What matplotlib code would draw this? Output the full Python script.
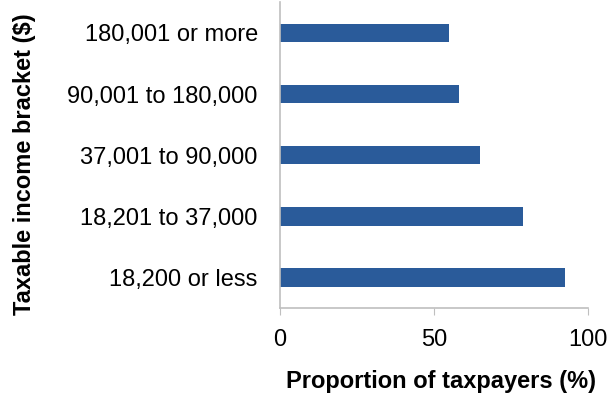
import matplotlib.pyplot as plt

plt.rcParams['font.family'] = ['Liberation Sans', 'DejaVu Sans']

brackets = ['18,200 or less', '18,201 to 37,000', '37,001 to 90,000',
            '90,001 to 180,000', '180,001 or more']
proportion = [92.4, 78.8, 64.9, 58.1, 54.8]

fig = plt.figure(figsize=(6.1, 3.94), dpi=100)
ax = fig.add_axes([0.459, 0.218, 0.505, 0.776])

ax.barh(range(len(brackets)), proportion, height=0.3, color='#2A5B9A')
ax.set_xlim(0, 100)
ax.set_ylim(-0.5, 4.5)
ax.set_yticks(range(len(brackets)))
ax.set_yticklabels(brackets)
ax.set_xticks([0, 50, 100])

for s in ['top', 'right']:
    ax.spines[s].set_visible(False)
for s in ['left', 'bottom']:
    ax.spines[s].set_color('#BFBFBF')
    ax.spines[s].set_linewidth(1.2)
ax.tick_params(axis='y', length=0, labelsize=17, pad=16)
ax.tick_params(axis='x', length=5, color='#BFBFBF', labelsize=17, pad=10)

ax.set_xlabel('Proportion of taxpayers (%)', fontsize=17, fontweight='bold', labelpad=14)
ax.xaxis.label.set_x(0.524)
ax.set_ylabel('Taxable income bracket ($)', fontsize=17, fontweight='bold')
ax.yaxis.set_label_coords(-0.792, 0.471)

fig.savefig('out.png', dpi=100)
